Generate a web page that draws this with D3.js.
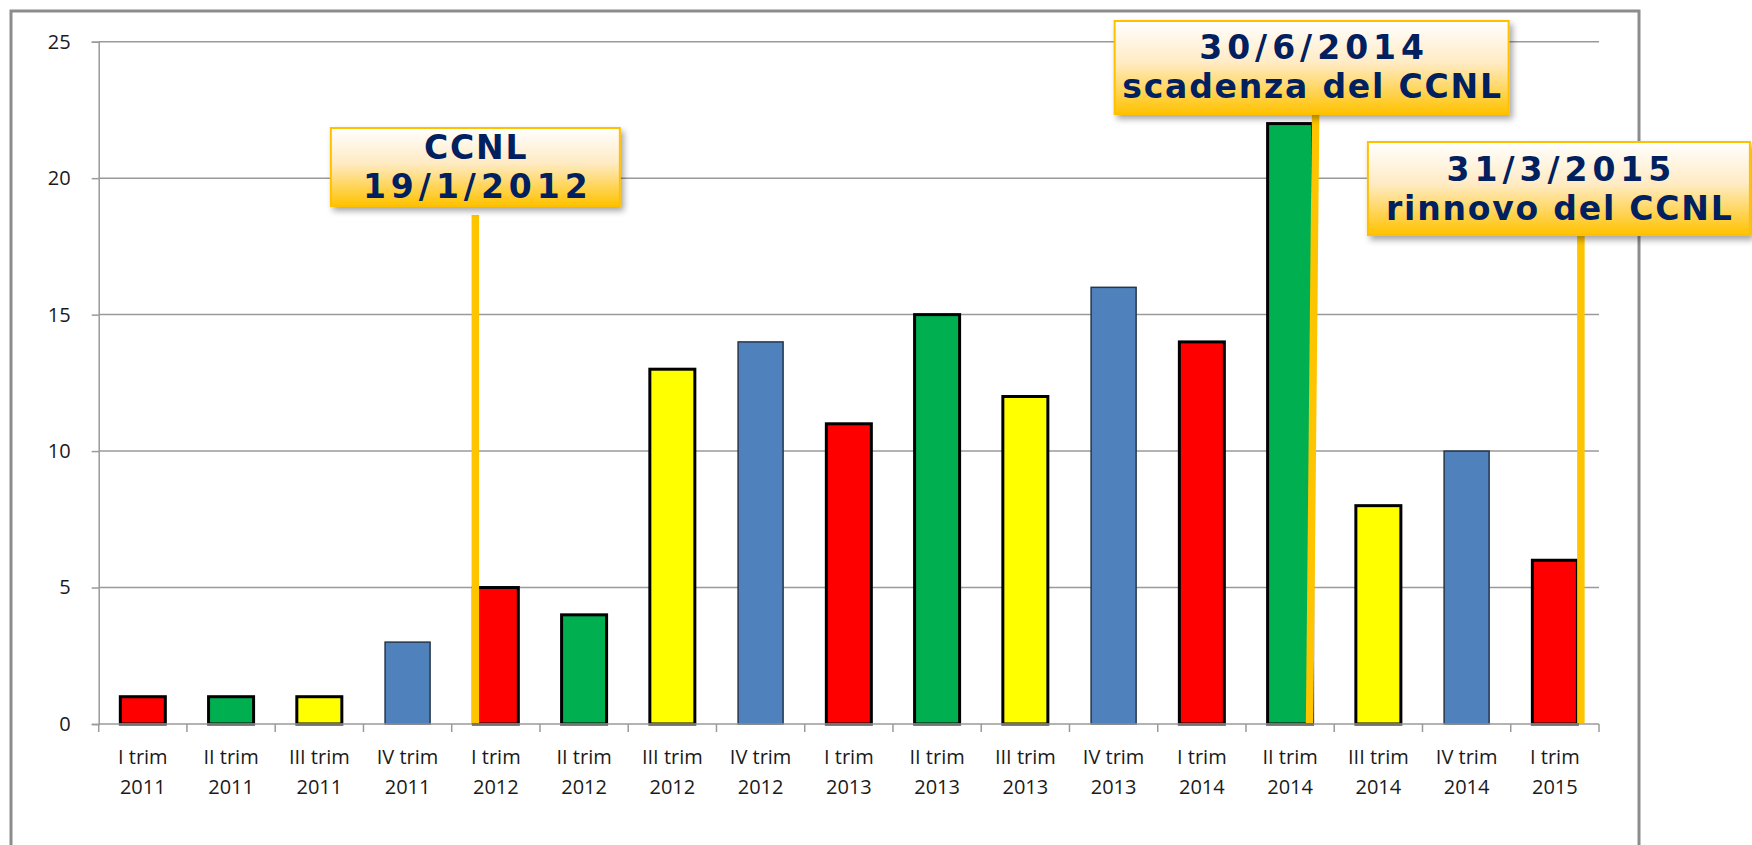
<!DOCTYPE html>
<html>
<head>
<meta charset="utf-8">
<script src="https://cdn.jsdelivr.net/npm/d3@7"></script>
<style>
    body { margin: 0; background: white; }
    svg { display: block; }
</style>
</head>
<body>
<svg></svg>
<script>
"use strict";

// data
var categories = [
    "I trim 2011", "II trim 2011", "III trim 2011", "IV trim 2011",
    "I trim 2012", "II trim 2012", "III trim 2012", "IV trim 2012",
    "I trim 2013", "II trim 2013", "III trim 2013", "IV trim 2013",
    "I trim 2014", "II trim 2014", "III trim 2014", "IV trim 2014",
    "I trim 2015"
];
var values = [1, 1, 1, 3, 5, 4, 13, 14, 11, 15, 12, 16, 14, 22, 8, 10, 6];
var yTicks = [0, 5, 10, 15, 20, 25];

var markerCategories = ["I trim 2012", "II trim 2014", "I trim 2015"];
var markerSides = ["left", "right", "right"];
var markerTexts = [
    ["CCNL", "19/1/2012"],
    ["30/6/2014", "scadenza del CCNL"],
    ["31/3/2015", "rinnovo del CCNL"]
];

var settings = {
    svg: { width: 1752, height: 845 },
    plot: { left: 98.7, right: 1599, top: 41.7, bottom: 724 },
    grid: '#9a9a9a',
    font: '"Open Sans", "Noto Sans", sans-serif',
    marker: {
        color: '#FFC400',
        text: '#002060',
        width: 7.5,
        fontSize: 33,
        // box geometry per marker (dx from line, top, width, height, text rows)
        boxes: [
            { dx: 0, top: 128, w: 289, h: 78, lineGap: 9, rows: [19, 58] },
            { dx: -4, top: 21, w: 394, h: 93, lineGap: 0, rows: [26, 65] },
            { dx: -22, top: 142, w: 382, h: 93, lineGap: 0, rows: [27, 66] }
        ],
        // slant of the line (top offset, bottom offset) relative to bar edge
        offsets: [[2, 2], [3, -3], [3.5, 3.5]]
    }
};

var quarterColor = {
    "I": { fill: '#FF0000', stroke: '#000', sw: 3 },
    "II": { fill: '#00B050', stroke: '#000', sw: 3 },
    "III": { fill: '#FFFF00', stroke: '#000', sw: 3 },
    "IV": { fill: '#4F81BD', stroke: '#26364a', sw: 1.5 }
};

var svg = d3.select('svg')
    .attr('width', settings.svg.width)
    .attr('height', settings.svg.height);

var defs = svg.append('defs');
var grad = defs.append('linearGradient')
    .attr('id', 'boxGrad')
    .attr('x1', 0).attr('y1', 0).attr('x2', 0).attr('y2', 1);
grad.append('stop').attr('offset', '0%').attr('stop-color', '#FFFFFF');
grad.append('stop').attr('offset', '45%').attr('stop-color', '#FFEBC4');
grad.append('stop').attr('offset', '100%').attr('stop-color', '#FFC200');

var shadow = defs.append('filter').attr('id', 'shadow')
    .attr('x', '-10%').attr('y', '-20%').attr('width', '130%').attr('height', '150%');
shadow.append('feDropShadow')
    .attr('dx', 3).attr('dy', 4).attr('stdDeviation', 3)
    .attr('flood-color', '#000').attr('flood-opacity', 0.35);

// outer frame
svg.append('rect')
    .attr('x', 11).attr('y', 11)
    .attr('width', 1628).attr('height', 900)
    .attr('fill', 'white')
    .attr('stroke', '#8c8c8c')
    .attr('stroke-width', 3);

var x = d3.scaleBand()
    .domain(categories)
    .range([settings.plot.left, settings.plot.right])
    .paddingInner(0.49)
    .paddingOuter(0.245);

var y = d3.scaleLinear()
    .domain([0, 25])
    .range([settings.plot.bottom, settings.plot.top]);

// gridlines
svg.append('g')
    .selectAll('line')
    .data(yTicks.filter(d => d > 0))
    .enter()
    .append('line')
    .attr('x1', settings.plot.left)
    .attr('x2', settings.plot.right)
    .attr('y1', d => y(d))
    .attr('y2', d => y(d))
    .attr('stroke', settings.grid)
    .attr('stroke-width', 1.5);

// y axis
var yAxis = svg.append('g')
    .attr('transform', `translate(${settings.plot.left},0)`)
    .call(d3.axisLeft(y).tickValues(yTicks).tickSize(7).tickPadding(21));
yAxis.select('.domain').attr('stroke', settings.grid).attr('stroke-width', 1.5);
yAxis.selectAll('.tick line').attr('stroke', settings.grid).attr('stroke-width', 1.5);
yAxis.selectAll('.tick text')
    .attr('fill', '#1a1a1a')
    .style('font-family', settings.font)
    .style('font-size', '20px');

// bars
var quarterOf = c => c.split(' ')[0];

svg.append('g')
    .selectAll('rect')
    .data(categories)
    .enter()
    .append('rect')
    .attr('x', d => x(d))
    .attr('y', (d, i) => y(values[i]))
    .attr('width', x.bandwidth())
    .attr('height', (d, i) => y(0) - y(values[i]))
    .attr('fill', d => quarterColor[quarterOf(d)].fill)
    .attr('stroke', d => quarterColor[quarterOf(d)].stroke)
    .attr('stroke-width', d => quarterColor[quarterOf(d)].sw);

// x axis line and ticks at band boundaries
var xAxis = svg.append('g');
var gap = (x.step() - x.bandwidth()) / 2;
var bounds = categories.map(c => x(c) - gap).concat([settings.plot.right]);

xAxis.append('line')
    .attr('x1', settings.plot.left)
    .attr('x2', settings.plot.right)
    .attr('y1', y(0)).attr('y2', y(0))
    .attr('stroke', settings.grid)
    .attr('stroke-width', 1.5);

xAxis.selectAll('.xtick')
    .data(bounds)
    .enter()
    .append('line')
    .attr('class', 'xtick')
    .attr('x1', d => d).attr('x2', d => d)
    .attr('y1', y(0)).attr('y2', y(0) + 8)
    .attr('stroke', settings.grid)
    .attr('stroke-width', 1.5);

var labels = xAxis.selectAll('.xlabel')
    .data(categories)
    .enter()
    .append('text')
    .attr('class', 'xlabel')
    .attr('text-anchor', 'middle')
    .attr('fill', '#1a1a1a')
    .style('font-family', settings.font)
    .style('font-size', '20px');

labels.append('tspan')
    .attr('x', d => x(d) + x.bandwidth() / 2)
    .attr('y', y(0) + 40)
    .text(d => d.slice(0, d.lastIndexOf(' ')));
labels.append('tspan')
    .attr('x', d => x(d) + x.bandwidth() / 2)
    .attr('y', y(0) + 70)
    .text(d => d.slice(d.lastIndexOf(' ') + 1));

// markers: vertical lines and label boxes
var markers = svg.append('g').attr('class', 'markers');

markerCategories.forEach((cat, i) => {
    var box = settings.marker.boxes[i];
    var off = settings.marker.offsets[i];
    var edge = markerSides[i] === 'left' ? x(cat) : x(cat) + x.bandwidth();
    var xTop = edge + off[0];
    var xBottom = edge + off[1];
    var boxX = xTop + box.dx - box.w / 2;

    markers.append('line')
        .attr('x1', xTop).attr('x2', xBottom)
        .attr('y1', box.top + box.h + box.lineGap)
        .attr('y2', y(0) - 1)
        .attr('stroke', settings.marker.color)
        .attr('stroke-width', settings.marker.width);

    var g = markers.append('g');
    g.append('rect')
        .attr('x', boxX).attr('y', box.top)
        .attr('width', box.w).attr('height', box.h)
        .attr('fill', 'url(#boxGrad)')
        .attr('stroke', '#FFC000')
        .attr('stroke-width', 2)
        .attr('filter', 'url(#shadow)');

    markerTexts[i].forEach((t, j) => {
        // dates are set wider, like the original Verdana digits
        var ls = /\d\/\d/.test(t) ? 5 : 1.8;
        g.append('text')
            .attr('x', boxX + box.w / 2 + ls / 2)
            .attr('y', box.top + box.rows[j])
            .attr('dy', '0.36em')
            .attr('text-anchor', 'middle')
            .attr('fill', settings.marker.text)
            .style('font-family', '"DejaVu Sans", Verdana, sans-serif')
            .style('font-weight', 'bold')
            .style('font-size', settings.marker.fontSize + 'px')
            .style('letter-spacing', ls + 'px')
            .text(t);
    });
});
</script>
</body>
</html>
